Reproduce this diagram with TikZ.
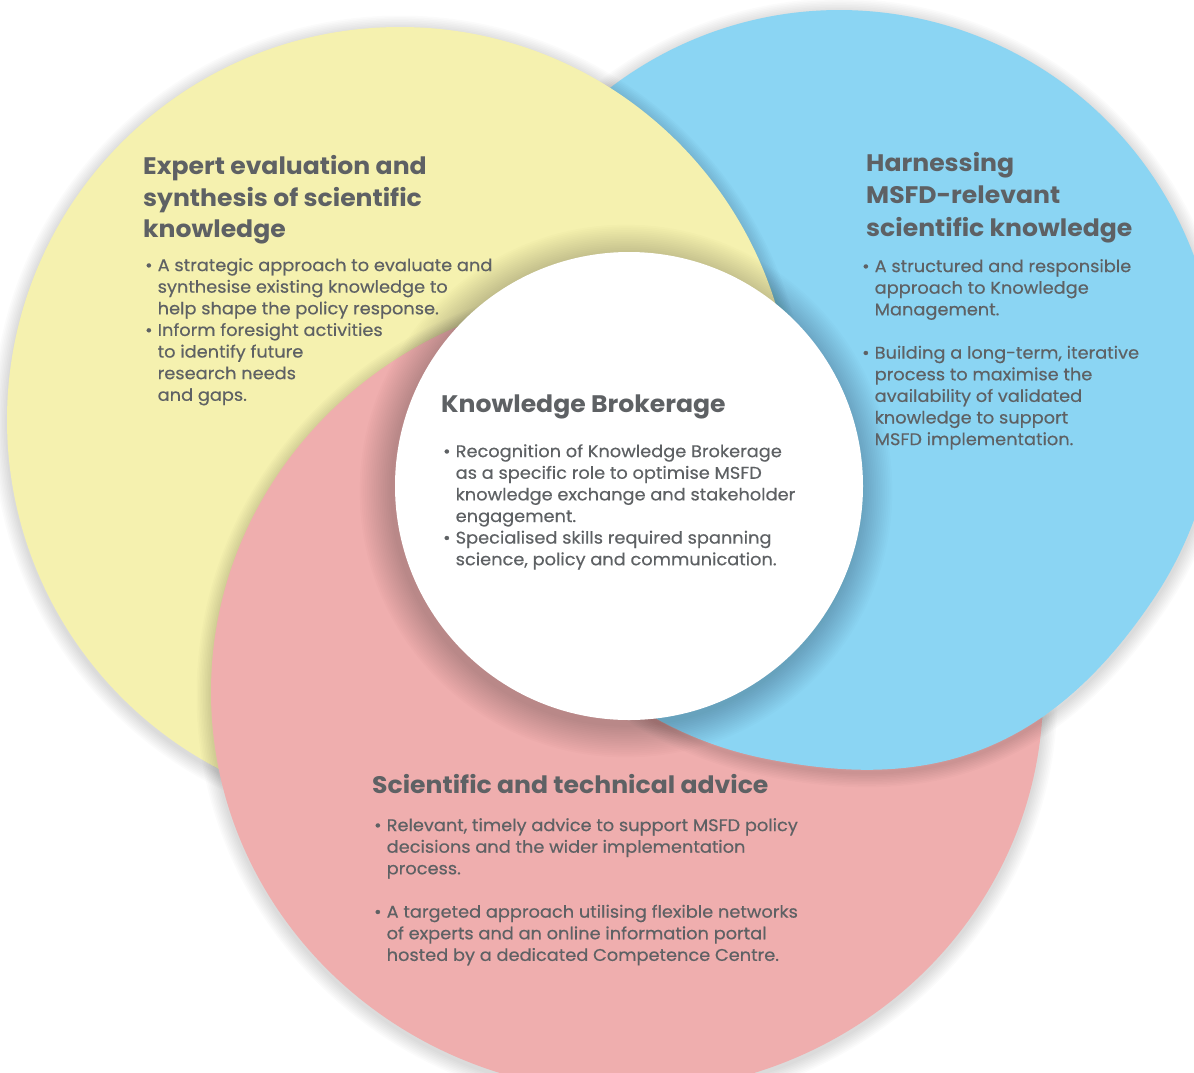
\documentclass[tikz,border=0pt]{standalone}
\usepackage{fontspec}
\setmainfont{Poppins}
\newfontfamily\bodyf{Poppins}[FakeStretch=1.05, FakeBold=0.4]
\newfontfamily\ttlf{Poppins}[FakeStretch=1.05]
\definecolor{yel}{HTML}{F5F1AF}
\definecolor{blu}{HTML}{8BD5F3}
\definecolor{pnk}{HTML}{EFAEAE}
\definecolor{txt}{HTML}{5E6164}
\newcommand\bl{\makebox[12.5bp][l]{•}}
\newcommand\ci{\hspace*{12.5bp}}
\tikzset{
  ttl/.style={anchor=north west, inner sep=0pt, align=left, text=txt,
    font=\ttlf\bfseries\fontsize{24}{31.8}\selectfont},
  bdy/.style={anchor=north west, inner sep=0pt, align=left, text=txt,
    font=\bodyf\fontsize{17}{21.7}\selectfont},
}
% shadow macro for ellipses: centre x, centre y, x radius, y radius
\newcommand\shad[4]{%
  \foreach \k in {1,...,9}{%
    \fill[black, opacity=0.016] (#1,#2+3) ellipse [x radius={#3+\k*1.6}, y radius={#4+\k*1.6}];}}
% blue outline: circular arc plus a flatter lower-right curve
\def\bluepath{(767,759) arc[start angle=101.1, end angle=394.1, radius=378]
  .. controls (1041,766) and (914,788) .. (767,759) -- cycle}
\newcommand\blushad{%
  \foreach \k in {1,...,9}{%
    \draw[black, opacity=0.016, line width={\k*3.2bp}, shift={(0,3)}] \bluepath;}}
\begin{document}
\begin{tikzpicture}[x=1bp, y=-1bp]
\useasboundingbox (0,0) rectangle (1194,1073);
\fill[white] (0,0) rectangle (1194,1073);
% pink shadow on background
\shad{627}{692}{416}{400}
% blue
\blushad
\fill[blu] \bluepath;
% yellow
\shad{400}{420}{393}{393}
\fill[yel] (400,420) ellipse [x radius=393, y radius=393];
% pink shadow on yellow
\begin{scope}
  \clip (400,420) ellipse [x radius=393, y radius=393];
  \shad{627}{692}{416}{400}
\end{scope}
\fill[pnk] (627,692) ellipse [x radius=416, y radius=400];
% blue over pink: shadow on pink, then blue
\begin{scope}
  \clip (627,692) ellipse [x radius=416, y radius=400];
  \blushad
\end{scope}
\begin{scope}
  \clip (627,692) ellipse [x radius=420, y radius=404];
  \fill[blu] \bluepath;
\end{scope}
% white centre
\foreach \k in {1,...,18}{
  \fill[black, opacity=0.012] (626,491) circle [radius={234+\k*1.8}];}
\fill[white] (629,486) circle [radius=234];

% texts
\node[ttl] (ytitle) at (143,155) {Expert evaluation and\\synthesis of scientific\\knowledge};
\node[bdy] (ybody) at (145,258) {\bl A strategic approach to evaluate and\\
\ci synthesise existing knowledge to\\
\ci help shape the policy response.\\
\bl Inform foresight activities\\
\ci to identify future\\
\ci research needs\\
\ci and gaps.};

\node[ttl, font=\ttlf\bfseries\fontsize{24}{32.5}\selectfont] (btitle) at (866,152) {Harnessing\\MSFD-relevant\\scientific knowledge};
\node[bdy] (bbody) at (862,259) {\bl A structured and responsible\\
\ci approach to Knowledge\\
\ci Management.\\[21.7bp]
\bl Building a long-term, iterative\\
\ci process to maximise the\\
\ci availability of validated\\
\ci knowledge to support\\
\ci MSFD implementation.};

\node[ttl] (wtitle) at (441,395) {Knowledge Brokerage};
\node[bdy] (wbody) at (443,444) {\bl Recognition of Knowledge Brokerage\\
\ci as a specific role to optimise MSFD\\
\ci knowledge exchange and stakeholder\\
\ci engagement.\\
\bl Specialised skills required spanning\\
\ci science, policy and communication.};

\node[ttl] (ptitle) at (372,774) {Scientific and technical advice};
\node[bdy] (pbody) at (374,818) {\bl Relevant, timely advice to support MSFD policy\\
\ci decisions and the wider implementation\\
\ci process.\\[21.7bp]
\bl A targeted approach utilising flexible networks\\
\ci of experts and an online information portal\\
\ci hosted by a dedicated Competence Centre.};
\end{tikzpicture}
\end{document}
